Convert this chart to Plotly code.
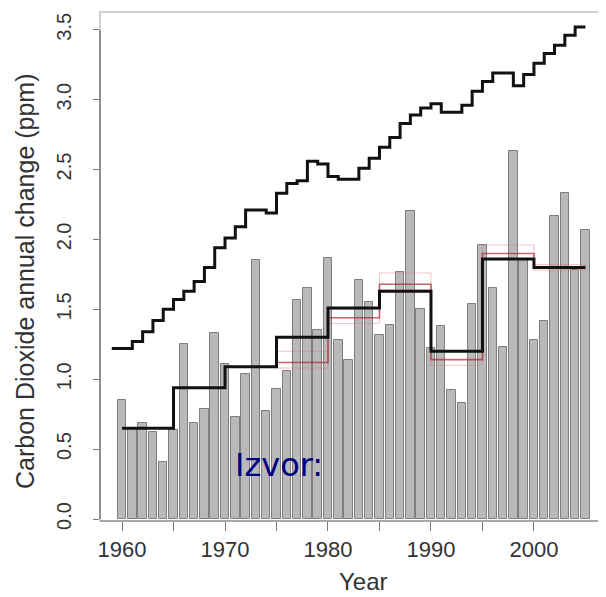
import plotly.graph_objects as go

# ---- data ----
bar_years = list(range(1960, 2006))
bar_values = [0.85, 0.65, 0.69, 0.62, 0.41, 0.64, 1.25, 0.69, 0.79, 1.33,
              1.11, 0.73, 1.04, 1.85, 0.77, 0.93, 1.06, 1.57, 1.65, 1.35,
              1.87, 1.28, 1.14, 1.71, 1.55, 1.32, 1.39, 1.77, 2.20, 1.50,
              1.22, 1.38, 0.92, 0.83, 1.54, 1.96, 1.65, 1.23, 2.63, 1.85,
              1.28, 1.42, 2.17, 2.33, 1.78, 2.07]

top_years = list(range(1959, 2005))
top_values = [1.22, 1.22, 1.27, 1.34, 1.42, 1.50, 1.57, 1.63, 1.70, 1.80,
              1.94, 2.01, 2.09, 2.21, 2.21, 2.19, 2.33, 2.40, 2.42, 2.56,
              2.54, 2.45, 2.43, 2.43, 2.51, 2.58, 2.66, 2.73, 2.83, 2.89,
              2.94, 2.97, 2.91, 2.91, 2.96, 3.06, 3.13, 3.19, 3.19, 3.10,
              3.18, 3.26, 3.33, 3.39, 3.46, 3.52]
top_end_year = 2005

mean_starts = [1960, 1965, 1970, 1975, 1980, 1985, 1990, 1995, 2000]
mean_values = [0.65, 0.94, 1.09, 1.30, 1.51, 1.63, 1.20, 1.86, 1.80]
mean_end_year = 2005

red_starts = [1975, 1980, 1985, 1990, 1995, 2000]
red_values = [1.12, 1.44, 1.68, 1.14, 1.90, 1.80]
red_low = [1.08, 1.40, 1.64, 1.10, 1.86, 1.78]
red_high = [1.20, 1.50, 1.76, 1.20, 1.96, 1.82]
red_end_year = 2005

x_tickvals = [1960, 1965, 1970, 1975, 1980, 1985, 1990, 1995, 2000]
x_ticktext = ["1960", "", "1970", "", "1980", "", "1990", "", "2000"]
y_tickvals = [0, 0.5, 1.0, 1.5, 2.0, 2.5, 3.0, 3.5]
y_ticktext = ["0.0", "0.5", "1.0", "1.5", "2.0", "2.5", "3.0", "3.5"]

fig = go.Figure()

fig.add_trace(go.Bar(
    x=bar_years, y=bar_values, width=0.82,
    marker=dict(color="#b9b9b9", line=dict(color="#7e7e7e", width=1)),
    showlegend=False, hoverinfo="x+y"))

# pink uncertainty boxes
bx, by = [], []
red_ends = red_starts[1:] + [red_end_year]
for s, e, lo, hi in zip(red_starts, red_ends, red_low, red_high):
    bx += [s, e, e, s, s, None]
    by += [lo, lo, hi, hi, lo, None]
fig.add_trace(go.Scatter(x=bx, y=by, mode="lines",
                         line=dict(color="rgba(225,120,120,0.45)", width=1),
                         showlegend=False, hoverinfo="skip"))

fig.add_trace(go.Scatter(
    x=red_starts + [red_end_year], y=red_values + [red_values[-1]],
    mode="lines", line=dict(color="rgba(175,35,45,0.7)", width=1.6, shape="hv"),
    showlegend=False))

fig.add_trace(go.Scatter(
    x=mean_starts + [mean_end_year], y=mean_values + [mean_values[-1]],
    mode="lines", line=dict(color="#111111", width=3, shape="hv"),
    showlegend=False))

fig.add_trace(go.Scatter(
    x=top_years + [top_end_year], y=top_values + [top_values[-1]],
    mode="lines", line=dict(color="#111111", width=3, shape="hv"),
    showlegend=False))

tick_font = dict(family="Liberation Sans, Arial, sans-serif", color="#333333")

# the page body adds an 8px offset, so the figure is 8px smaller and margins shifted
fig.update_layout(
    width=598, height=589,
    margin=dict(l=92, r=1, t=4, b=76),
    paper_bgcolor="white", plot_bgcolor="white",
    bargap=0,
    xaxis=dict(range=[1957.86, 2006.9], showgrid=False, zeroline=False,
               showline=False, ticks="outside", ticklen=9, tickcolor="#777777",
               tickvals=x_tickvals, ticktext=x_ticktext,
               tickfont=dict(size=22, **tick_font)),
    yaxis=dict(range=[-0.014, 3.627], showgrid=False, zeroline=False,
               showline=False, ticks="outside", ticklen=6, tickcolor="#777777",
               tickvals=y_tickvals, ticktext=y_ticktext, tickangle=-90,
               ticklabelstandoff=14,
               tickfont=dict(size=20, **tick_font)),
    shapes=[
        dict(type="rect", xref="paper", yref="paper", x0=0, x1=1, y0=0, y1=1,
             line=dict(color="#c4c4c4", width=1.5), layer="above"),
        dict(type="line", xref="paper", yref="paper", x0=0, x1=1, y0=0, y1=0,
             line=dict(color="#999999", width=1.5), layer="above"),
        dict(type="line", xref="paper", yref="y", x0=0, x1=0, y0=0, y1=3.5,
             line=dict(color="#777777", width=1.5), layer="above"),
    ],
    annotations=[
        dict(text="Carbon Dioxide annual change (ppm)", textangle=-90,
             xref="paper", yref="paper", x=-0.1485, y=0.4715,
             xanchor="center", yanchor="middle", showarrow=False,
             font=dict(size=25, family="Liberation Sans, Arial, sans-serif", color="#333333")),
        dict(text="Year", xref="paper", yref="paper", x=0.5208, y=-0.1179,
             xanchor="center", yanchor="middle", showarrow=False,
             font=dict(size=24, family="Liberation Sans, Arial, sans-serif", color="#333333")),
        dict(text="Izvor:", xref="paper", yref="paper", x=0.2634, y=0.110,
             xanchor="left", yanchor="middle", showarrow=False,
             font=dict(size=32, family="DejaVu Sans, Verdana, sans-serif", color="#000080")),
    ],
)

fig.write_html("out.html")
